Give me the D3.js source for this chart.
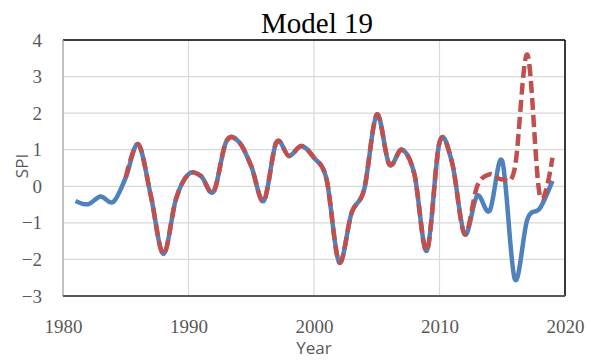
<!DOCTYPE html>
<html>
<head>
<meta charset="utf-8">
<script src="https://cdn.jsdelivr.net/npm/d3@7"></script>
<style>
  body { margin: 0; background: #fff; }
</style>
</head>
<body>
<div id="chart"></div>
<script>
// SPI, observed (blue) vs model 19 (red dashed)
const years = d3.range(1981, 2020); // 1981..2019
const observed = [-0.40, -0.49, -0.28, -0.43, 0.24, 1.15, -0.26, -1.85, -0.35, 0.33,
                  0.28, -0.15, 1.22, 1.22, 0.55, -0.40, 1.20, 0.83, 1.10, 0.78,
                  0.19, -2.08, -0.72, -0.08, 1.96, 0.60, 1.00, 0.33, -1.76, 1.20,
                  0.65, -1.31, -0.26, -0.67, 0.69, -2.54, -0.90, -0.60, 0.15];
const modelYears = d3.range(1985, 2020);
const model = [0.24, 1.15, -0.26, -1.85, -0.35, 0.33,
               0.28, -0.15, 1.22, 1.22, 0.55, -0.40, 1.20, 0.83, 1.10, 0.78,
               0.19, -2.08, -0.72, -0.08, 1.96, 0.60, 1.00, 0.33, -1.76, 1.20,
               0.65, -1.31, 0.00, 0.33, 0.19, 0.50, 3.60, -0.26, 0.78];
const xTicks = [1980, 1990, 2000, 2010, 2020];
const yTicks = [-3, -2, -1, 0, 1, 2, 3, 4];

const width = 592, height = 360;
const margin = {top: 40, right: 27, bottom: 64, left: 63};

const svg = d3.select("#chart").append("svg")
    .attr("width", width)
    .attr("height", height);

const x = d3.scaleLinear().domain([1980, 2020]).range([margin.left, width - margin.right]);
const y = d3.scaleLinear().domain([-3, 4]).range([height - margin.bottom, margin.top]);

// gridlines
svg.append("g")
    .selectAll("line.h")
    .data(yTicks)
    .join("line")
    .attr("x1", margin.left).attr("x2", width - margin.right)
    .attr("y1", d => y(d)).attr("y2", d => y(d))
    .attr("stroke", "#d9d9d9").attr("stroke-width", 1.2);
svg.append("g")
    .selectAll("line.v")
    .data(xTicks)
    .join("line")
    .attr("y1", margin.top).attr("y2", height - margin.bottom)
    .attr("x1", d => x(d)).attr("x2", d => x(d))
    .attr("stroke", "#d9d9d9").attr("stroke-width", 1.2);

// frame
svg.append("line").attr("x1", margin.left).attr("x2", width - margin.right)
    .attr("y1", y(4)).attr("y2", y(4)).attr("stroke", "#000").attr("stroke-width", 1.5);
svg.append("line").attr("x1", x(2020)).attr("x2", x(2020))
    .attr("y1", y(4)).attr("y2", y(-3)).attr("stroke", "#000").attr("stroke-width", 1.5);
svg.append("line").attr("x1", x(1980)).attr("x2", x(1980))
    .attr("y1", y(4)).attr("y2", y(-3)).attr("stroke", "#a6a6a6").attr("stroke-width", 1.2);
svg.append("line").attr("x1", margin.left).attr("x2", width - margin.right)
    .attr("y1", y(-3)).attr("y2", y(-3)).attr("stroke", "#595959").attr("stroke-width", 2);

// axes labels
const xAxis = d3.axisBottom(x).tickValues(xTicks).tickFormat(d3.format("d")).tickSize(0).tickPadding(24);
svg.append("g")
    .attr("transform", `translate(0,${y(-3)})`)
    .call(xAxis)
    .call(g => g.select(".domain").remove())
    .selectAll("text")
    .attr("font-family", "'Liberation Serif', serif")
    .attr("font-size", 19)
    .attr("fill", "#595959");

const yAxis = d3.axisLeft(y).tickValues(yTicks).tickFormat(d3.format("d")).tickSize(0).tickPadding(21);
svg.append("g")
    .attr("transform", `translate(${x(1980)},0)`)
    .call(yAxis)
    .call(g => g.select(".domain").remove())
    .selectAll("text")
    .attr("font-family", "'Liberation Serif', serif")
    .attr("font-size", 19)
    .attr("fill", "#595959");

// series
const line = d3.line()
    .x(d => x(d[0]))
    .y(d => y(d[1]))
    .curve(d3.curveCardinal);

svg.append("path")
    .datum(d3.zip(years, observed))
    .attr("fill", "none")
    .attr("stroke", "#4F81BD")
    .attr("stroke-width", 4.5)
    .attr("stroke-linejoin", "round")
    .attr("d", line);

svg.append("path")
    .datum(d3.zip(modelYears, model))
    .attr("fill", "none")
    .attr("stroke", "#C0504D")
    .attr("stroke-width", 4.5)
    .attr("stroke-dasharray", "12,5")
    .attr("d", line);

// title and axis titles
svg.append("text")
    .attr("x", 317).attr("y", 33)
    .attr("text-anchor", "middle")
    .attr("font-family", "'Liberation Serif', serif")
    .attr("font-size", 29)
    .attr("fill", "#000")
    .text("Model 19");

svg.append("text")
    .attr("x", (x(1980) + x(2020)) / 2).attr("y", 354)
    .attr("text-anchor", "middle")
    .attr("font-family", "'Open Sans', sans-serif")
    .attr("font-size", 17)
    .attr("fill", "#595959")
    .text("Year");

svg.append("text")
    .attr("transform", `translate(28,${(y(4) + y(-3)) / 2 - 2}) rotate(-90)`)
    .attr("text-anchor", "middle")
    .attr("font-family", "'Open Sans', sans-serif")
    .attr("font-size", 17)
    .attr("fill", "#595959")
    .text("SPI");
</script>
</body>
</html>
